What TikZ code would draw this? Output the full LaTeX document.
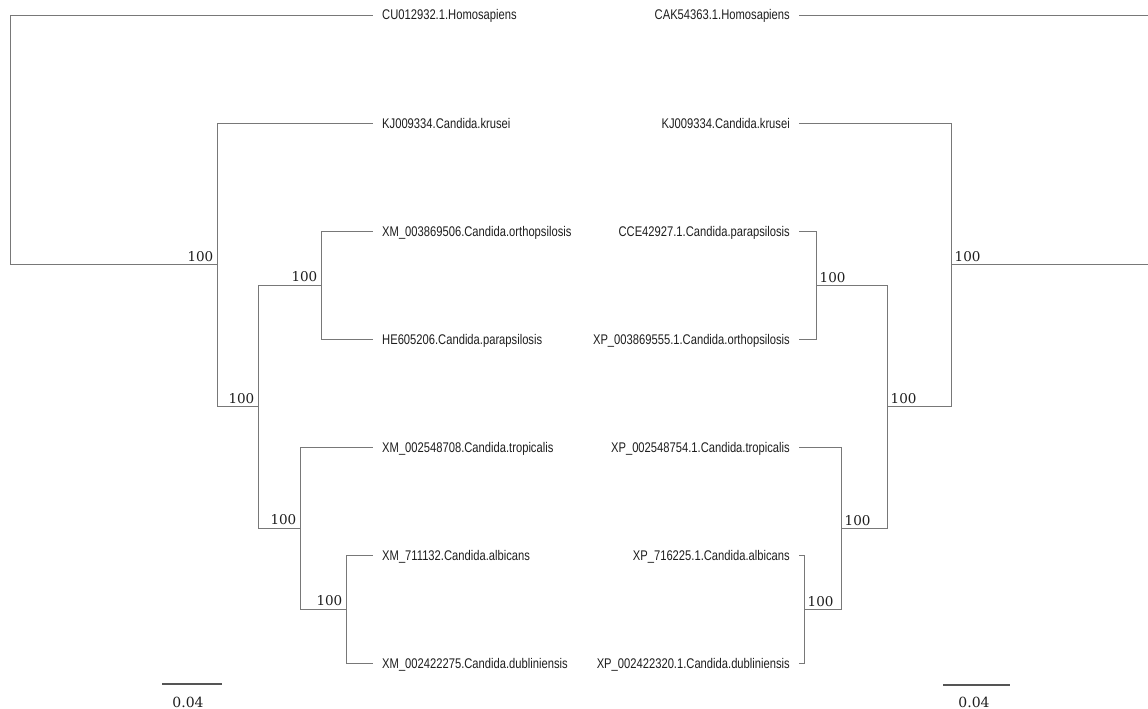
\documentclass[tikz,border=0pt]{standalone}
\usepackage{fontspec}
\newfontfamily\leaffont[FakeStretch=0.8]{Liberation Sans}
\newfontfamily\numfont{DejaVu Serif}
\definecolor{branch}{RGB}{120,120,120}
\definecolor{scalecol}{RGB}{85,85,85}
\definecolor{txt}{RGB}{30,30,30}
\begin{document}
\begin{tikzpicture}[x=1pt,y=-1pt,
  br/.style={draw=branch,line width=0.9pt},
  leafL/.style={anchor=west,inner xsep=9pt,inner ysep=0pt,text height=10pt,text depth=0pt,
                font=\leaffont\fontsize{14}{14}\selectfont,text=txt},
  leafR/.style={leafL,anchor=east},
  bsL/.style={anchor=south east,inner sep=0pt,xshift=-3.5pt,yshift=3pt,
              font=\numfont\fontsize{13.5}{13.5}\selectfont,text=txt},
  bsR/.style={anchor=south west,inner sep=0pt,xshift=3.5pt,yshift=2.5pt,
              font=\numfont\fontsize{13.5}{13.5}\selectfont,text=txt},
  sclab/.style={anchor=base,inner sep=0pt,font=\numfont\fontsize{14}{14}\selectfont,text=txt}
  ]
\useasboundingbox (0,0) rectangle (1148,709);

% ---------------- left tree ----------------
\node[leafL] (lhom)  at (373,15)  {CU012932.1.Homosapiens};
\node[leafL] (lkru)  at (373,123) {KJ009334.Candida.krusei};
\node[leafL] (lort)  at (373,231) {XM\_003869506.Candida.orthopsilosis};
\node[leafL] (lpar)  at (373,339) {HE605206.Candida.parapsilosis};
\node[leafL] (ltro)  at (373,447) {XM\_002548708.Candida.tropicalis};
\node[leafL] (lalb)  at (373,555) {XM\_711132.Candida.albicans};
\node[leafL] (ldub)  at (373,663) {XM\_002422275.Candida.dubliniensis};

\coordinate (LE) at (346,609);
\coordinate (LD) at (300,528);
\coordinate (LC) at (321,285);
\coordinate (LB) at (258,406.5);
\coordinate (LA) at (217,264.75);
\coordinate (L0) at (10,139.9);

\draw[br] (L0) |- (lhom.west);
\draw[br] (L0) |- (LA);
\draw[br] (LA) |- (lkru.west);
\draw[br] (LA) |- (LB);
\draw[br] (LB) |- (LC);
\draw[br] (LB) |- (LD);
\draw[br] (LC) |- (lort.west);
\draw[br] (LC) |- (lpar.west);
\draw[br] (LD) |- (ltro.west);
\draw[br] (LD) |- (LE);
\draw[br] (LE) |- (lalb.west);
\draw[br] (LE) |- (ldub.west);

\node[bsL] (bLA) at (LA) {100};
\node[bsL] (bLB) at (LB) {100};
\node[bsL] (bLC) at (LC) {100};
\node[bsL] (bLD) at (LD) {100};
\node[bsL] (bLE) at (LE) {100};

% ---------------- right tree ----------------
\node[leafR] (rhom)  at (799,15)  {CAK54363.1.Homosapiens};
\node[leafR] (rkru)  at (799,123) {KJ009334.Candida.krusei};
\node[leafR] (rpar)  at (799,231) {CCE42927.1.Candida.parapsilosis};
\node[leafR] (rort)  at (799,339) {XP\_003869555.1.Candida.orthopsilosis};
\node[leafR] (rtro)  at (799,447) {XP\_002548754.1.Candida.tropicalis};
\node[leafR] (ralb)  at (799,555) {XP\_716225.1.Candida.albicans};
\node[leafR] (rdub)  at (799,663) {XP\_002422320.1.Candida.dubliniensis};

\coordinate (RE) at (804,609);
\coordinate (RD) at (841,528);
\coordinate (RC) at (816,285);
\coordinate (RB) at (887,406.5);
\coordinate (RA) at (951,264.75);
\coordinate (R0) at (1148,139.9);

\draw[br] (rhom.east) -- (rhom.east -| R0);
\draw[br] (RA) -- (RA -| R0);
\draw[br] (RA) |- (rkru.east);
\draw[br] (RA) |- (RB);
\draw[br] (RB) |- (RC);
\draw[br] (RB) |- (RD);
\draw[br] (RC) |- (rpar.east);
\draw[br] (RC) |- (rort.east);
\draw[br] (RD) |- (rtro.east);
\draw[br] (RD) |- (RE);
\draw[br] (RE) |- (ralb.east);
\draw[br] (RE) |- (rdub.east);

\node[bsR] (bRA) at (RA) {100};
\node[bsR] (bRB) at (RB) {100};
\node[bsR] (bRC) at (RC) {100};
\node[bsR] (bRD) at (RD) {100};
\node[bsR] (bRE) at (RE) {100};

% ---------------- scale bars ----------------
\coordinate (sL1) at (162,684);
\coordinate (sL2) at (222,684);
\draw[draw=scalecol,line width=1.1pt] (sL1) -- (sL2);
\node[sclab] (sLt) at (188,707) {0.04};

\coordinate (sR1) at (943,685);
\coordinate (sR2) at (1010,685);
\draw[draw=scalecol,line width=1.1pt] (sR1) -- (sR2);
\node[sclab] (sRt) at (974,707) {0.04};
\end{tikzpicture}
\end{document}
